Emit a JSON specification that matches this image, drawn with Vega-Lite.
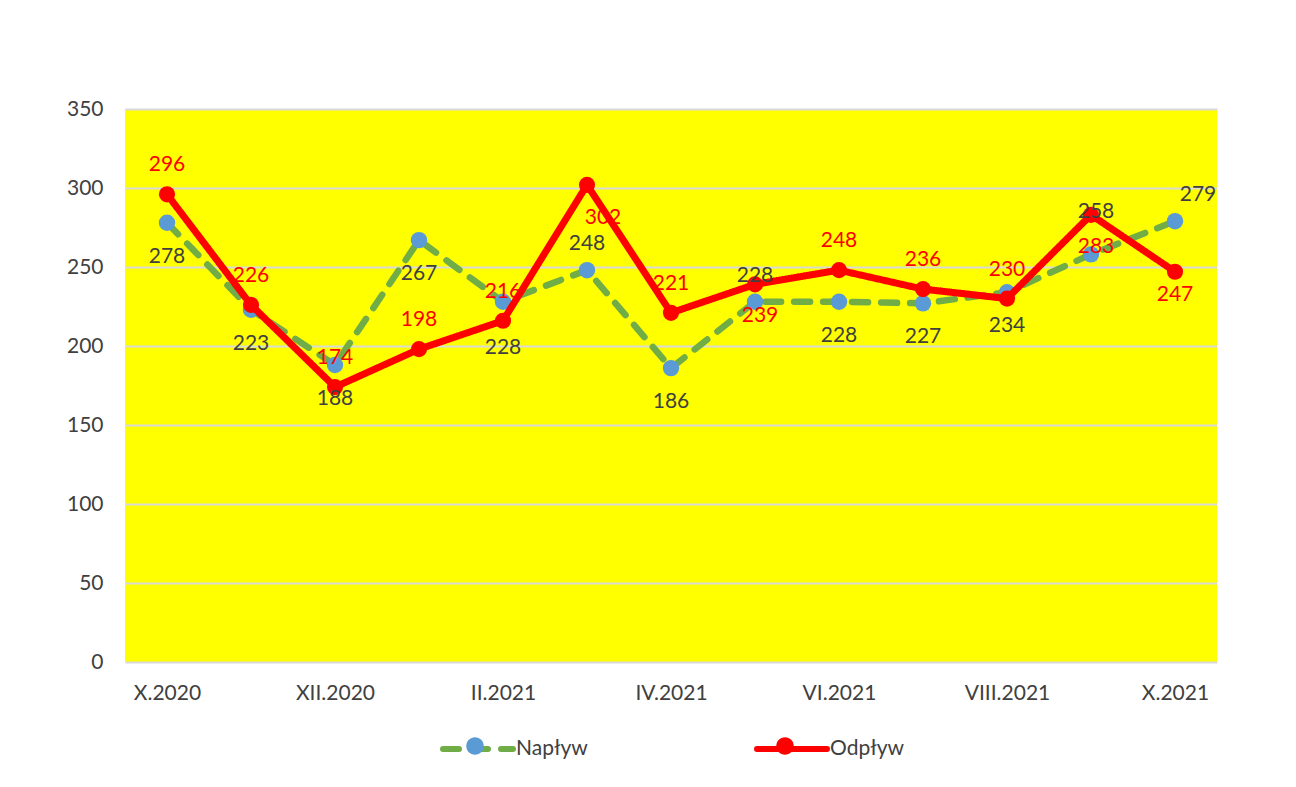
{
  "$schema": "https://vega.github.io/schema/vega-lite/v6.json",
  "width": 1092,
  "height": 553,
  "autosize": {"type": "none"},
  "padding": {"left": 125, "top": 109, "right": 79, "bottom": 125},
  "background": "white",
  "config": {"font": "Lato", "view": {"fill": "#FFFF00", "stroke": null}},
  "data": {"values": [
    {"month": "X.2020", "series": "Napływ", "value": 278},
    {"month": "XI.2020", "series": "Napływ", "value": 223},
    {"month": "XII.2020", "series": "Napływ", "value": 188},
    {"month": "I.2021", "series": "Napływ", "value": 267},
    {"month": "II.2021", "series": "Napływ", "value": 228},
    {"month": "III.2021", "series": "Napływ", "value": 248},
    {"month": "IV.2021", "series": "Napływ", "value": 186},
    {"month": "V.2021", "series": "Napływ", "value": 228},
    {"month": "VI.2021", "series": "Napływ", "value": 228},
    {"month": "VII.2021", "series": "Napływ", "value": 227},
    {"month": "VIII.2021", "series": "Napływ", "value": 234},
    {"month": "IX.2021", "series": "Napływ", "value": 258},
    {"month": "X.2021", "series": "Napływ", "value": 279},
    {"month": "X.2020", "series": "Odpływ", "value": 296},
    {"month": "XI.2020", "series": "Odpływ", "value": 226},
    {"month": "XII.2020", "series": "Odpływ", "value": 174},
    {"month": "I.2021", "series": "Odpływ", "value": 198},
    {"month": "II.2021", "series": "Odpływ", "value": 216},
    {"month": "III.2021", "series": "Odpływ", "value": 302},
    {"month": "IV.2021", "series": "Odpływ", "value": 221},
    {"month": "V.2021", "series": "Odpływ", "value": 239},
    {"month": "VI.2021", "series": "Odpływ", "value": 248},
    {"month": "VII.2021", "series": "Odpływ", "value": 236},
    {"month": "VIII.2021", "series": "Odpływ", "value": 230},
    {"month": "IX.2021", "series": "Odpływ", "value": 283},
    {"month": "X.2021", "series": "Odpływ", "value": 247}
  ]},
  "encoding": {
    "x": {
      "field": "month", "type": "ordinal",
      "sort": ["X.2020", "XI.2020", "XII.2020", "I.2021", "II.2021", "III.2021", "IV.2021", "V.2021", "VI.2021", "VII.2021", "VIII.2021", "IX.2021", "X.2021"],
      "scale": {"type": "point", "padding": 0.5},
      "axis": {
        "values": ["X.2020", "XII.2020", "II.2021", "IV.2021", "VI.2021", "VIII.2021", "X.2021"],
        "title": null, "labelAngle": 0, "labelFontSize": 21, "labelColor": "#404040", "labelFont": "Lato",
        "ticks": false, "domain": false, "grid": false, "labelPadding": 20, "labelOverlap": false
      }
    },
    "y": {
      "field": "value", "type": "quantitative",
      "scale": {"domain": [0, 350], "nice": false},
      "axis": {
        "values": [0, 50, 100, 150, 200, 250, 300, 350],
        "title": null, "ticks": false, "domain": false, "labelPadding": 22,
        "gridColor": "#D9D9D9", "gridWidth": 2, "labelFontSize": 21, "labelColor": "#404040", "labelFont": "Lato"
      }
    }
  },
  "layer": [
    {
      "transform": [{"filter": "datum.series === 'Napływ'"}],
      "mark": {"type": "line", "strokeWidth": 6.5, "strokeCap": "round", "strokeJoin": "round"},
      "encoding": {
        "stroke": {
          "field": "series", "type": "nominal",
          "scale": {"domain": ["Napływ", "Odpływ"], "range": ["#70AD47", "#FF0000"]},
          "legend": {
            "title": null, "orient": "none", "legendX": 315, "legendY": 602, "direction": "horizontal",
            "symbolType": "M-1,0H1", "symbolSize": 4900, "symbolStrokeWidth": 6,
            "labelFont": "Lato", "labelFontSize": 21, "labelColor": "#404040", "labelOffset": 0,
            "columnPadding": 157, "padding": 0,
            "encode": {"symbols": {"update": {"strokeCap": {"value": "round"}}}}
          }
        },
        "strokeDash": {
          "field": "series", "type": "nominal",
          "scale": {"domain": ["Napływ", "Odpływ"], "range": [[16, 13], [1, 0]]},
          "legend": {
            "title": null, "orient": "none", "legendX": 315, "legendY": 602, "direction": "horizontal",
            "symbolType": "M-1,0H1", "symbolSize": 4900, "symbolStrokeWidth": 6,
            "labelFont": "Lato", "labelFontSize": 21, "labelColor": "#404040", "labelOffset": 0,
            "columnPadding": 157, "padding": 0
          }
        }
      }
    },
    {
      "transform": [{"filter": "datum.series === 'Napływ'"}],
      "mark": {"type": "point", "filled": true, "size": 270, "opacity": 1, "strokeWidth": 0},
      "encoding": {
        "fill": {
          "field": "series", "type": "nominal",
          "scale": {"domain": ["Napływ", "Odpływ"], "range": ["#5B9BD5", "#FF0000"]},
          "legend": null
        }
      }
    },
    {
      "transform": [{"filter": "datum.series === 'Odpływ'"}],
      "mark": {"type": "line", "strokeWidth": 7, "strokeCap": "round", "strokeJoin": "round"},
      "encoding": {
        "stroke": {"field": "series", "type": "nominal", "legend": null},
        "strokeDash": {"field": "series", "type": "nominal", "legend": null}
      }
    },
    {
      "transform": [{"filter": "datum.series === 'Odpływ'"}],
      "mark": {"type": "point", "filled": true, "size": 260, "opacity": 1, "strokeWidth": 0},
      "encoding": {
        "fill": {
          "field": "series", "type": "nominal",
          "legend": {
            "title": null, "orient": "none", "legendX": 315, "legendY": 602, "direction": "horizontal",
            "symbolType": "M-0.25,0A0.25,0.25,0,1,1,0.25,0A0.25,0.25,0,1,1,-0.25,0Z", "symbolSize": 4900, "symbolStrokeWidth": 0,
            "labelFont": "Lato", "labelFontSize": 21, "labelOffset": 0, "labelExpr": "''",
            "columnPadding": 240, "padding": 0
          }
        }
      }
    },
    {
      "transform": [
        {"filter": "datum.series === 'Napływ'"},
        {"filter": {"field": "month", "oneOf": ["X.2020", "XI.2020", "XII.2020", "I.2021", "IV.2021", "VI.2021", "VII.2021", "VIII.2021"]}}
      ],
      "mark": {"type": "text", "font": "Lato", "fontSize": 21, "color": "#404040", "baseline": "middle", "dy": 34},
      "encoding": {"text": {"field": "value", "type": "quantitative"}}
    },
    {
      "transform": [
        {"filter": "datum.series === 'Napływ'"},
        {"filter": {"field": "month", "oneOf": ["II.2021"]}}
      ],
      "mark": {"type": "text", "font": "Lato", "fontSize": 21, "color": "#404040", "baseline": "middle", "dy": 46},
      "encoding": {"text": {"field": "value", "type": "quantitative"}}
    },
    {
      "transform": [
        {"filter": "datum.series === 'Napływ'"},
        {"filter": {"field": "month", "oneOf": ["III.2021", "V.2021"]}}
      ],
      "mark": {"type": "text", "font": "Lato", "fontSize": 21, "color": "#404040", "baseline": "middle", "dy": -26},
      "encoding": {"text": {"field": "value", "type": "quantitative"}}
    },
    {
      "transform": [
        {"filter": "datum.series === 'Napływ'"},
        {"filter": {"field": "month", "oneOf": ["IX.2021"]}}
      ],
      "mark": {"type": "text", "font": "Lato", "fontSize": 21, "color": "#404040", "baseline": "middle", "dy": -42, "dx": 5},
      "encoding": {"text": {"field": "value", "type": "quantitative"}}
    },
    {
      "transform": [
        {"filter": "datum.series === 'Napływ'"},
        {"filter": {"field": "month", "oneOf": ["X.2021"]}}
      ],
      "mark": {"type": "text", "font": "Lato", "fontSize": 21, "color": "#404040", "baseline": "middle", "dy": -26, "dx": 23},
      "encoding": {"text": {"field": "value", "type": "quantitative"}}
    },
    {
      "transform": [
        {"filter": "datum.series === 'Odpływ'"},
        {"filter": {"field": "month", "oneOf": ["X.2020", "XI.2020", "XII.2020", "I.2021", "II.2021", "IV.2021", "VI.2021", "VII.2021", "VIII.2021"]}}
      ],
      "mark": {"type": "text", "font": "Lato", "fontSize": 21, "color": "#FF0000", "baseline": "middle", "dy": -29},
      "encoding": {"text": {"field": "value", "type": "quantitative"}}
    },
    {
      "transform": [
        {"filter": "datum.series === 'Odpływ'"},
        {"filter": {"field": "month", "oneOf": ["V.2021", "IX.2021"]}}
      ],
      "mark": {"type": "text", "font": "Lato", "fontSize": 21, "color": "#FF0000", "baseline": "middle", "dy": 32, "dx": 5},
      "encoding": {"text": {"field": "value", "type": "quantitative"}}
    },
    {
      "transform": [
        {"filter": "datum.series === 'Odpływ'"},
        {"filter": {"field": "month", "oneOf": ["X.2021"]}}
      ],
      "mark": {"type": "text", "font": "Lato", "fontSize": 21, "color": "#FF0000", "baseline": "middle", "dy": 23},
      "encoding": {"text": {"field": "value", "type": "quantitative"}}
    },
    {
      "transform": [
        {"filter": "datum.series === 'Odpływ'"},
        {"filter": {"field": "month", "oneOf": ["III.2021"]}}
      ],
      "mark": {"type": "text", "font": "Lato", "fontSize": 21, "color": "#FF0000", "baseline": "middle", "dy": 33, "dx": 16},
      "encoding": {"text": {"field": "value", "type": "quantitative"}}
    }
  ],
  "resolve": {"legend": {"stroke": "independent", "strokeDash": "independent", "fill": "independent"}}
}
